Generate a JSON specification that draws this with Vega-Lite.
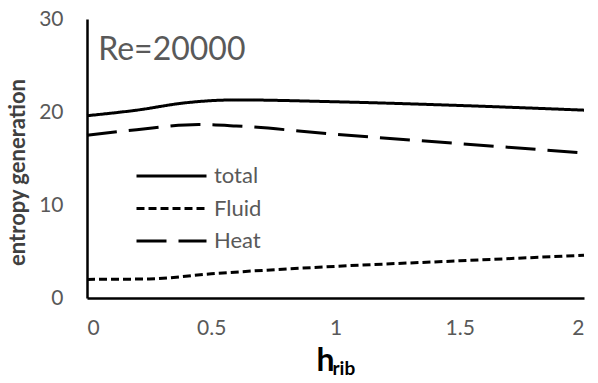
{
  "$schema": "https://vega.github.io/schema/vega-lite/v6.json",
  "width": 497,
  "height": 279,
  "autosize": {"type": "none"},
  "padding": {"left": 87, "top": 19, "right": 14, "bottom": 85},
  "background": "white",
  "config": {
    "view": {"stroke": null},
    "font": "Lato",
    "axis": {"grid": false, "ticks": false, "domainColor": "black", "domainWidth": 2.5, "labelColor": "#595959", "labelFontSize": 21, "labelFont": "Lato"}
  },
  "datasets": {
    "series": [
      {"h": 0, "value": 19.6, "type": "total"},
      {"h": 0.2, "value": 20.2, "type": "total"},
      {"h": 0.4, "value": 21.0, "type": "total"},
      {"h": 0.6, "value": 21.3, "type": "total"},
      {"h": 1.0, "value": 21.1, "type": "total"},
      {"h": 1.5, "value": 20.7, "type": "total"},
      {"h": 2.0, "value": 20.2, "type": "total"},
      {"h": 0, "value": 2.0, "type": "Fluid"},
      {"h": 0.25, "value": 2.05, "type": "Fluid"},
      {"h": 0.5, "value": 2.6, "type": "Fluid"},
      {"h": 1.0, "value": 3.4, "type": "Fluid"},
      {"h": 1.5, "value": 4.0, "type": "Fluid"},
      {"h": 2.0, "value": 4.6, "type": "Fluid"},
      {"h": 0, "value": 17.5, "type": "Heat"},
      {"h": 0.2, "value": 18.1, "type": "Heat"},
      {"h": 0.45, "value": 18.65, "type": "Heat"},
      {"h": 0.6, "value": 18.5, "type": "Heat"},
      {"h": 1.0, "value": 17.6, "type": "Heat"},
      {"h": 1.5, "value": 16.6, "type": "Heat"},
      {"h": 2.0, "value": 15.6, "type": "Heat"}
    ],
    "label": [{"h": 0.045, "value": 26.7, "text": "Re=20000"}],
    "sub": [{"h": 1.0, "value": 0, "text": "rib"}]
  },
  "layer": [
    {
      "data": {"name": "series"},
      "mark": {"type": "line", "color": "black", "strokeWidth": 3, "interpolate": "monotone"},
      "encoding": {
        "x": {"field": "h", "type": "quantitative", "scale": {"domain": [0, 2], "nice": false},
          "axis": {"values": [0, 0.5, 1, 1.5, 2], "format": "~g", "labelPadding": 19, "title": "h", "titleFontSize": 32, "titleFontWeight": "bold", "titleColor": "black", "titleFont": "Lato", "titlePadding": 7, "titleX": 238, "titleAlign": "center"}},
        "y": {"field": "value", "type": "quantitative", "scale": {"domain": [0, 30], "nice": false},
          "axis": {"values": [0, 10, 20, 30], "labelPadding": 24, "title": "entropy generation", "titleFontSize": 22, "titleFontWeight": "bold", "titleColor": "#404040", "titlePadding": 9, "titleY": 153}},
        "strokeDash": {"field": "type", "type": "nominal",
          "scale": {"domain": ["total", "Fluid", "Heat"], "range": [[1, 0], [8, 4], [30, 12]]},
          "legend": {"orient": "none", "legendX": 48, "legendY": 149, "title": null, "symbolType": "stroke", "symbolSize": 4900, "symbolStrokeWidth": 3, "symbolStrokeColor": "black", "clipHeight": 16, "rowPadding": 10.5, "labelFontSize": 22, "labelColor": "#595959", "labelOffset": 6, "labelFont": "Lato"}}
      }
    },
    {
      "data": {"name": "label"},
      "mark": {"type": "text", "align": "left", "baseline": "middle", "fontSize": 32, "color": "#595959", "font": "Lato"},
      "encoding": {
        "x": {"field": "h", "type": "quantitative"},
        "y": {"field": "value", "type": "quantitative"},
        "text": {"field": "text"}
      }
    },
    {
      "data": {"name": "sub"},
      "mark": {"type": "text", "align": "left", "baseline": "alphabetic", "fontSize": 19, "fontWeight": "bold", "color": "black", "font": "Lato", "dx": -3, "dy": 77, "clip": false},
      "encoding": {
        "x": {"field": "h", "type": "quantitative"},
        "y": {"field": "value", "type": "quantitative"},
        "text": {"field": "text"}
      }
    }
  ]
}
